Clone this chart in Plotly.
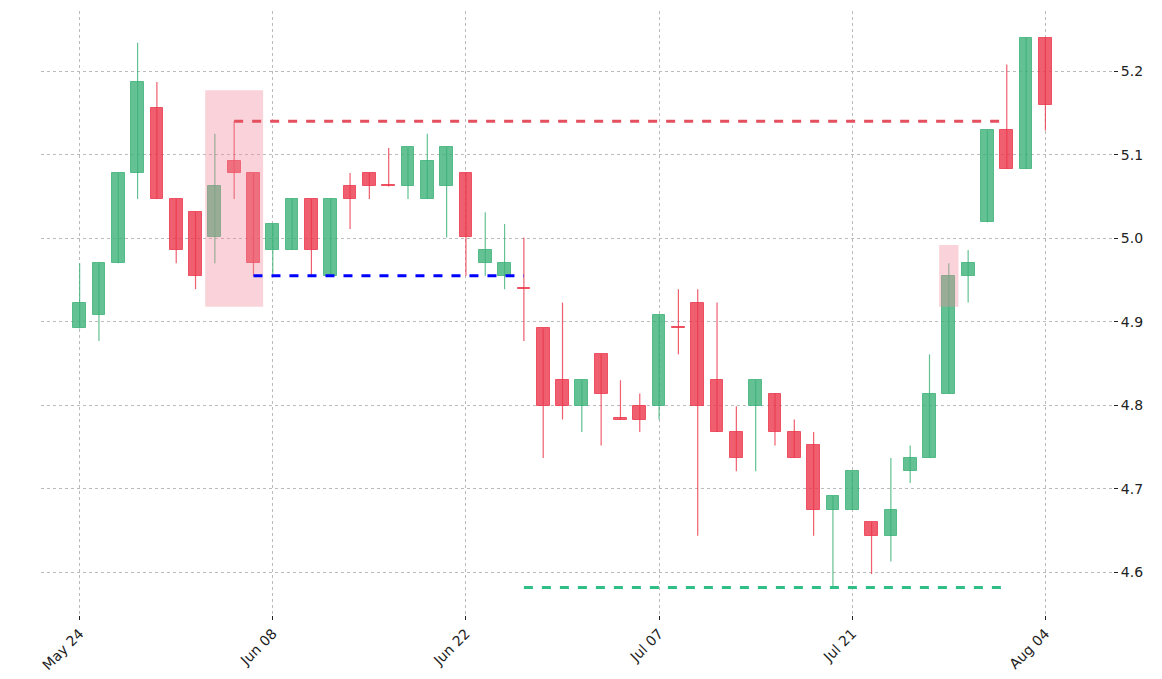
import plotly.graph_objects as go

tick_idx = [0, 10, 20, 30, 40, 50]
tick_labels = ["May 24", "Jun 08", "Jun 22", "Jul 07", "Jul 21", "Aug 04"]

opens  = [4.892,4.908,4.970,5.078,5.156,5.047,5.031,5.001,5.093,5.078,
          4.986,4.986,5.047,4.955,5.062,5.078,5.062,5.062,5.047,5.062,
          5.078,4.970,4.955,4.939,4.892,4.830,4.799,4.861,4.783,4.799,
          4.799,4.892,4.923,4.830,4.768,4.799,4.814,4.768,4.752,4.675,
          4.675,4.660,4.644,4.721,4.737,4.814,4.955,5.019,5.129,5.083,5.240]
closes = [4.923,4.970,5.078,5.187,5.047,4.986,4.955,5.062,5.078,4.970,
          5.017,5.047,4.986,5.047,5.047,5.062,5.062,5.109,5.093,5.109,
          5.001,4.986,4.970,4.939,4.799,4.799,4.830,4.814,4.783,4.783,
          4.908,4.892,4.799,4.768,4.737,4.830,4.768,4.737,4.675,4.691,
          4.721,4.644,4.675,4.737,4.814,4.955,4.970,5.129,5.083,5.240,5.160]
highs  = [4.970,4.970,5.078,5.234,5.187,5.047,5.031,5.125,5.140,5.078,
          5.017,5.047,5.047,5.047,5.078,5.078,5.108,5.109,5.125,5.109,
          5.078,5.031,5.017,5.001,4.892,4.923,4.830,4.861,4.830,4.814,
          4.908,4.939,4.939,4.923,4.799,4.830,4.814,4.783,4.768,4.691,
          4.721,4.660,4.737,4.752,4.861,4.970,4.986,5.129,5.208,5.240,5.240]
lows   = [4.892,4.877,4.970,5.047,5.047,4.970,4.939,4.970,5.047,4.955,
          4.955,4.986,4.955,4.955,5.011,5.047,5.062,5.047,5.047,5.001,
          4.955,4.955,4.939,4.877,4.737,4.783,4.768,4.752,4.783,4.768,
          4.783,4.861,4.644,4.768,4.721,4.721,4.752,4.737,4.644,4.582,
          4.675,4.598,4.613,4.707,4.737,4.814,4.923,5.019,5.083,5.083,5.129]

# pattern highlight boxes: (x0, x1, y0, y1)
boxes = [(6.5, 9.5, 4.918, 5.177), (44.5, 45.5, 4.918, 4.992)]
# levels: (x0, x1, y, color)
levels = [(8, 48, 5.140, "#E5505F"), (9, 23, 4.955, "#0000FF"), (23, 48, 4.582, "#2EBE86")]

GREEN = "rgba(60,178,120,0.8)"
RED = "rgba(235,55,75,0.8)"

n = len(opens)
xs = list(range(n))
fig = go.Figure()

for up, col in [(True, GREEN), (False, RED)]:
    idx = [i for i in xs if (closes[i] > opens[i]) == up]
    wx, wy = [], []
    for i in idx:
        wx += [i, i, None]; wy += [lows[i], highs[i], None]
    fig.add_trace(go.Scatter(x=wx, y=wy, mode="lines", line=dict(color=col, width=1.2),
                             hoverinfo="skip", showlegend=False))
    base = [min(opens[i], closes[i]) for i in idx]
    h = [max(abs(closes[i] - opens[i]), 0.0015) for i in idx]
    fig.add_trace(go.Bar(x=idx, y=h, base=base, width=0.66, marker=dict(color=col, line=dict(color=col, width=1)),
                         showlegend=False))

for x0, x1, y0, y1 in boxes:
    fig.add_shape(type="rect", x0=x0, x1=x1, y0=y0, y1=y1, fillcolor="rgba(240,140,155,0.38)",
                  line=dict(width=0), layer="above")
for x0, x1, y, c in levels:
    fig.add_shape(type="line", x0=x0, x1=x1, y0=y, y1=y, line=dict(color=c, width=3, dash="dash"))

fig.update_layout(
    width=1162, height=679, plot_bgcolor="white", paper_bgcolor="white",
    margin=dict(l=33, r=57, t=3, b=72), bargap=0,
    font=dict(family="DejaVu Sans", size=14, color="#222"),
    xaxis=dict(range=[-2.0, 53.5], tickvals=tick_idx, ticktext=tick_labels, tickangle=-45,
               showgrid=True, gridcolor="#bbb", griddash="dot", gridwidth=0.6, zeroline=False,
               ticks="outside", ticklen=4, tickcolor="#222"),
    yaxis=dict(range=[4.549, 5.272], side="right", tickvals=[4.6, 4.7, 4.8, 4.9, 5.0, 5.1, 5.2],
               ticktext=["4.6", "4.7", "4.8", "4.9", "5.0", "5.1", "5.2"],
               showgrid=True, gridcolor="#bbb", griddash="dot", gridwidth=0.6, zeroline=False,
               ticks="outside", ticklen=4, tickcolor="#222"),
)
fig.write_html("out.html")
